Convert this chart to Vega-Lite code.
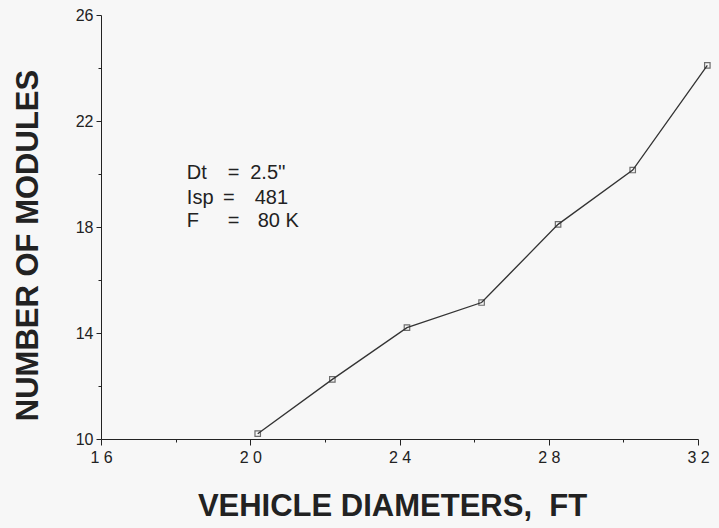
{
  "$schema": "https://vega.github.io/schema/vega-lite/v6.json",
  "width": 597,
  "height": 424,
  "autosize": "none",
  "padding": {"left": 101, "top": 15, "right": 21, "bottom": 89},
  "background": "#f7f7f7",
  "config": {
    "view": {"stroke": null},
    "font": "Liberation Sans",
    "axis": {"grid": false, "domainColor": "#222", "tickColor": "#222", "labelColor": "#222", "titleColor": "#222"}
  },
  "datasets": {
    "pts": [
      {"d": 20.2, "n": 10.2},
      {"d": 22.2, "n": 12.25},
      {"d": 24.2, "n": 14.2},
      {"d": 26.2, "n": 15.15},
      {"d": 28.25, "n": 18.1},
      {"d": 30.25, "n": 20.15},
      {"d": 32.25, "n": 24.1}
    ],
    "notes": [
      {"name": "Dt", "eq": 19.4, "vx": 20.0, "val": "2.5''", "y": 19.8},
      {"name": "Isp", "eq": 19.27, "vx": 20.12, "val": "481", "y": 18.85},
      {"name": "F", "eq": 19.4, "vx": 20.2, "val": "80 K", "y": 18.0}
    ]
  },
  "layer": [
    {
      "data": {"name": "pts"},
      "mark": {"type": "line", "color": "#333", "strokeWidth": 1.3, "clip": false},
      "encoding": {
        "x": {"field": "d", "type": "quantitative", "scale": {"domain": [16, 32], "nice": false, "zero": false},
          "axis": {"title": "VEHICLE DIAMETERS,\u00a0\u00a0FT", "values": [16, 17, 18, 19, 20, 21, 22, 23, 24, 25, 26, 27, 28, 29, 30, 31, 32], "labelOverlap": false, "labelFontSize": 16, "labelExpr": "datum.value % 4 === 0 ? substring(datum.label,0,1) + ' ' + substring(datum.label,1) : ''", "labelPadding": 4, "tickSize": {"condition": {"test": "datum.value % 4 === 0", "value": 6}, "value": 3}, "titleFontSize": 31, "titleFontWeight": "bold", "titleX": 291, "titleY": 76, "titleAlign": "center", "titleBaseline": "alphabetic", "labelFlush": false}},
        "y": {"field": "n", "type": "quantitative", "scale": {"domain": [10, 26], "nice": false, "zero": false},
          "axis": {"title": "NUMBER OF MODULES", "values": [10, 12, 14, 16, 18, 20, 22, 24, 26], "labelOverlap": false, "labelExpr": "datum.value % 4 === 2 ? datum.label : ''", "labelFontSize": 16, "tickSize": {"condition": {"test": "datum.value % 4 === 2", "value": 5}, "value": 3}, "labelPadding": 3, "titleFontSize": 31, "titleFontWeight": "bold", "titleAngle": 270, "titleX": -73, "titleY": 230, "titleAlign": "center", "titleBaseline": "middle"}}
      }
    },
    {
      "data": {"name": "pts"},
      "mark": {"type": "point", "shape": "square", "size": 30, "filled": false, "color": "#333", "strokeWidth": 1.2, "clip": false},
      "encoding": {
        "x": {"field": "d", "type": "quantitative"},
        "y": {"field": "n", "type": "quantitative"}
      }
    },
    {
      "data": {"name": "notes"},
      "mark": {"type": "text", "align": "left", "baseline": "alphabetic", "fontSize": 20, "color": "#222"},
      "encoding": {
        "x": {"datum": 18.3},
        "y": {"field": "y", "type": "quantitative"},
        "text": {"field": "name"}
      }
    },
    {
      "data": {"name": "notes"},
      "mark": {"type": "text", "align": "left", "baseline": "alphabetic", "fontSize": 20, "color": "#222", "text": "="},
      "encoding": {
        "x": {"field": "eq", "type": "quantitative"},
        "y": {"field": "y", "type": "quantitative"}
      }
    },
    {
      "data": {"name": "notes"},
      "mark": {"type": "text", "align": "left", "baseline": "alphabetic", "fontSize": 20, "color": "#222"},
      "encoding": {
        "x": {"field": "vx", "type": "quantitative"},
        "y": {"field": "y", "type": "quantitative"},
        "text": {"field": "val"}
      }
    }
  ]
}
